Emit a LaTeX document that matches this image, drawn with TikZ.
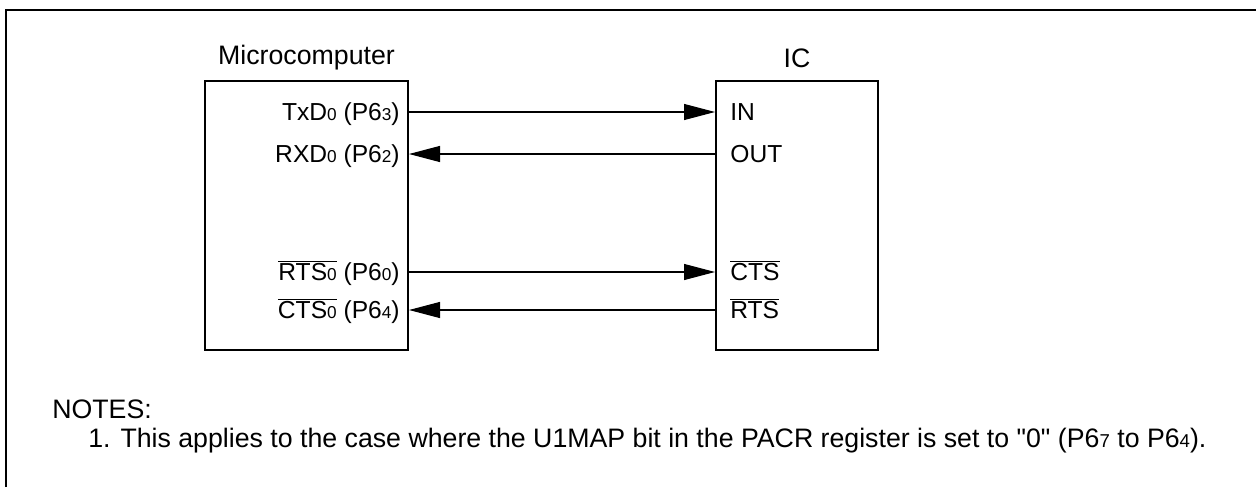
\documentclass[tikz,border=0pt]{standalone}
\usepackage{fontspec}
\setmainfont{Liberation Sans}[Ligatures=TeXOff]
\usetikzlibrary{arrows.meta}

\newcommand{\lo}[1]{{\fontsize{9.8}{10}\selectfont #1}}
\newcommand{\lob}[1]{{\fontsize{10.6}{11}\selectfont #1}}
\newcommand{\ovl}[1]{$\overline{\mbox{#1}}$}

\begin{document}
\begin{tikzpicture}[x=0.2mm,y=-0.2mm,
    >={Triangle[length=6.2mm,width=3.2mm]},
    every node/.style={font=\fontsize{14}{16}\selectfont},
    bigtext/.style={font=\fontsize{15.2}{18}\selectfont},
    chip/.style={draw,line width=0.4mm,inner sep=0pt},
    pinleft/.style={anchor=east,inner sep=0pt,text height=3.52mm,text depth=0pt},
    pinright/.style={anchor=west,inner sep=0pt,text height=3.52mm,text depth=0pt},
    sig/.style={line width=0.22mm}]
  \useasboundingbox (0,0) rectangle (1256,487);
  % frame
  \draw[line width=0.4mm] (6,487) -- (6,10) -- (1256,10);

  % the two devices
  \node[chip,minimum width=40.6mm,minimum height=53.8mm] (mcu) at (306.5,215.5) {};
  \node[chip,minimum width=32.4mm,minimum height=53.8mm] (ic) at (797,215.5) {};
  \node[bigtext] (mcutitle) at (306.5,58) {Microcomputer};
  \node[bigtext] (ictitle) at (797,58) {IC};

  % pins
  \node[pinleft] (txd) at (400,112) {TxD\lo{0} (P6\lo{3})};
  \node[pinleft] (rxd) at (400,154) {RXD\lo{0} (P6\lo{2})};
  \node[pinleft] (rts) at (400,272) {\ovl{RTS\lo{0}} (P6\lo{0})};
  \node[pinleft] (cts) at (400,310) {\ovl{CTS\lo{0}} (P6\lo{4})};
  \node[pinright] (in) at (730,112) {IN};
  \node[pinright] (out) at (730,154) {OUT};
  \node[pinright] (icts) at (730,272) {\ovl{CTS}};
  \node[pinright] (irts) at (730,310) {\ovl{RTS}};

  \draw[sig,->] (mcu.east |- txd) -- (ic.west |- in);
  \draw[sig,->] (ic.west |- out) -- (mcu.east |- rxd);
  \draw[sig,->] (mcu.east |- rts) -- (ic.west |- icts);
  \draw[sig,->] (ic.west |- irts) -- (mcu.east |- cts);

  % notes
  \node[bigtext,anchor=base west,inner sep=0pt] (notes) at (52,418) {NOTES:};
  \node[bigtext,anchor=base west,inner sep=0pt] (note1) at (88,447)
    {1. This applies to the case where the U1MAP bit in the PACR register is set to "0" (P6\lob{7} to P6\lob{4}).};
\end{tikzpicture}
\end{document}
